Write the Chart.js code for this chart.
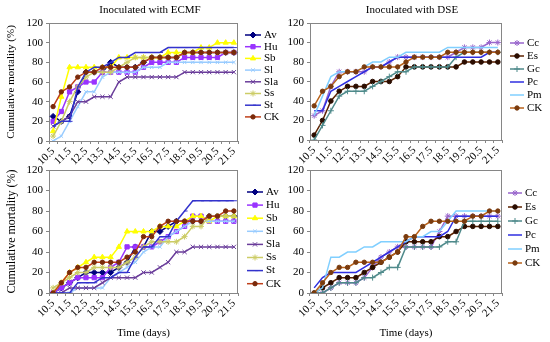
<!DOCTYPE html>
<html lang="en">
<head>
<meta charset="UTF-8">
<title>Cumulative mortality</title>
<script src="https://cdn.jsdelivr.net/npm/chart.js"></script>
<style>
  body { margin: 0; background: #fff; }
  #wrap { position: relative; width: 550px; height: 342px; overflow: hidden; }
  canvas { position: absolute; }
</style>
</head>
<body>
<div id="wrap">
  <canvas id="ecmfTop" width="285" height="168" style="left:0;top:0"></canvas>
  <canvas id="dseTop" width="268" height="168" style="left:282px;top:0"></canvas>
  <canvas id="ecmfBottom" width="285" height="182" style="left:0;top:160px"></canvas>
  <canvas id="dseBottom" width="268" height="182" style="left:282px;top:160px"></canvas>
</div>
<script>
// time points, every half day
const days = ['10.5','11','11.5','12','12.5','13','13.5','14','14.5','15','15.5','16',
              '16.5','17','17.5','18','18.5','19','19.5','20','20.5','21','21.5'];

// top row, ECMF
const avTop  = [25,20,25,50,70,70,70,80,75,75,75,80,85,85,85,85,90,90,90,90,90,90,90];
const huTop  = [20,30,50,55,60,60,70,70,70,70,70,75,80,80,80,80,85,85,85,85,85,90,90];
const sbTop  = [10,45,75,75,75,75,75,75,85,85,85,85,85,85,90,90,90,90,95,95,100,100,100];
const slTop  = [0,5,20,35,50,50,65,70,70,70,70,75,75,75,80,80,80,80,80,80,80,80,80];
const slaTop = [15,20,25,40,40,45,45,45,60,65,65,65,65,65,65,65,70,70,70,70,70,70,70];
const ssTop  = [5,20,40,55,65,70,70,70,75,80,85,85,85,85,85,85,90,90,90,90,90,90,90];
const stTop  = [15,20,20,55,70,75,75,80,85,85,90,90,90,90,95,95,95,95,95,95,95,95,95];
const ckTop  = [35,50,55,65,70,70,75,75,75,75,75,80,85,85,85,85,90,90,90,90,90,90,90];

// top row, DSE
const ccTop  = [25,30,55,70,70,70,70,75,75,80,85,85,85,85,85,85,85,90,95,95,95,100,100];
const esTop  = [5,20,40,50,55,55,55,60,60,60,65,75,75,75,75,75,75,75,80,80,80,80,80];
const gcTop  = [0,15,30,45,50,50,50,55,60,65,70,70,75,75,75,75,75,85,90,90,90,90,90];
const pcTop  = [30,30,50,55,60,65,70,75,75,80,85,85,85,85,85,85,85,85,85,85,85,90,90];
const pmTop  = [25,45,65,70,70,70,75,80,80,85,85,90,90,90,90,90,95,95,95,95,95,95,95];

// bottom row, ECMF
const avBot  = [0,5,10,15,20,20,20,20,25,30,45,45,60,60,65,70,70,70,70,75,75,75,75];
const huBot  = [0,5,10,15,15,15,15,25,30,45,45,45,45,50,55,60,65,75,75,70,70,70,70];
const sbBot  = [0,10,20,25,30,35,35,35,45,60,60,60,60,65,65,65,70,75,75,70,75,75,75];
const slBot  = [0,0,0,5,5,5,5,15,20,25,30,40,45,45,55,60,65,70,70,70,70,70,70];
const slaBot = [0,0,5,5,5,5,10,15,15,15,15,20,20,25,30,40,40,45,45,45,45,45,45];
const ssBot  = [5,10,15,20,20,25,25,25,25,30,35,45,50,50,50,50,55,65,65,75,75,75,75];
const stBot  = [0,0,0,10,10,10,15,15,20,20,35,45,45,55,55,70,80,90,90,90,90,90,90];
const ckBot  = [0,10,20,25,25,30,30,30,30,35,40,55,55,65,70,70,70,70,70,75,75,80,80];

// bottom row, DSE
const ccBot  = [0,0,5,10,10,10,15,25,35,40,45,45,45,45,45,60,75,75,75,75,75,75,75];
const esBot  = [0,5,10,15,15,15,20,25,30,35,40,50,50,50,50,55,55,60,65,65,65,65,65];
const gcBot  = [0,0,5,10,10,10,15,15,20,25,25,45,45,45,45,45,50,50,70,70,70,70,70];
const pcBot  = [5,15,20,20,20,20,25,30,35,40,45,50,55,55,55,55,60,75,75,75,75,75,75];
const pmBot  = [0,5,35,35,40,40,45,45,50,50,50,50,55,55,60,60,70,80,80,80,80,80,80];

const ecmfStyle = {
  Av:  { line: '#000080', marker: 'rectRot',  fill: '#000080', r: 3 },
  Hu:  { line: '#9933ff', marker: 'rect',     fill: '#9933ff', r: 3 },
  Sb:  { line: '#ffff00', marker: 'triangle', fill: '#ffff00', r: 3 },
  Sl:  { line: '#99ccff', marker: 'crossRot', fill: '#99ccff', r: 2.5 },
  Sla: { line: '#6a3d9a', marker: 'crossRot', fill: '#6a3d9a', r: 3 },
  Ss:  { line: '#cccc66', marker: 'star',     fill: '#cccc66', r: 3 },
  St:  { line: '#3333cc', marker: 'dash',     fill: '#3333cc', r: 3 },
  CK:  { line: '#c0401a', marker: 'circle',   fill: '#7a2a0a', r: 2.2 }
};
const dseStyle = {
  Cc:  { line: '#9966cc', marker: 'star',   fill: '#9966cc', r: 3 },
  Es:  { line: '#5c2200', marker: 'circle', fill: '#2b0d00', r: 2.3 },
  Gc:  { line: '#4f8a8b', marker: 'cross',  fill: '#4f8a8b', r: 3 },
  Pc:  { line: '#2f2fe0', marker: null },
  Pm:  { line: '#80cfff', marker: null },
  CK:  { line: '#b8621b', marker: 'circle', fill: '#7a3b0e', r: 2.2 }
};

Chart.defaults.font.family = '"Liberation Serif", "Times New Roman", serif';
Chart.defaults.font.size = 11;
Chart.defaults.color = '#000';
const axisGray = '#868686';

function buildSets(pairs, styles) {
  return pairs.map(([label, values], i) => {
    const s = styles[label];
    return {
      label: label,
      data: values,
      borderColor: s.line,
      borderWidth: 1.5,
      tension: 0,
      fill: false,
      order: pairs.length - i,
      pointStyle: s.marker || 'circle',
      pointRadius: s.marker ? s.r : 0,
      pointHoverRadius: s.marker ? s.r : 0,
      pointBackgroundColor: s.fill || s.line,
      pointBorderColor: s.fill || s.line,
      pointBorderWidth: 1
    };
  });
}

// panel title, plot frame and an Excel-like legend (line + marker)
const panelPlugin = {
  id: 'panel',
  beforeDatasetsDraw(chart) {
    const a = chart.chartArea, ctx = chart.ctx;
    ctx.save();
    ctx.strokeStyle = axisGray;
    ctx.lineWidth = 1;
    ctx.strokeRect(a.left + 0.5, a.top + 0.5, a.right - a.left - 1, a.bottom - a.top);
    ctx.restore();
  },
  afterDraw(chart, args, o) {
    const ctx = chart.ctx;
    ctx.save();
    ctx.font = '11px "Liberation Serif"';
    ctx.fillStyle = '#000';
    if (o.title) {
      ctx.textAlign = 'center';
      ctx.textBaseline = 'middle';
      ctx.fillText(o.title, o.titleX, o.titleY);
    }
    ctx.textAlign = 'left';
    ctx.textBaseline = 'middle';
    chart.data.datasets.forEach((ds, i) => {
      const x = o.legendX, y = o.legendY + i * o.legendGap;
      ctx.strokeStyle = ds.borderColor;
      ctx.lineWidth = ds.borderWidth;
      ctx.beginPath();
      ctx.moveTo(x, y);
      ctx.lineTo(x + o.legendLen, y);
      ctx.stroke();
      if (ds.pointRadius > 0) {
        ctx.fillStyle = ds.pointBackgroundColor;
        ctx.strokeStyle = ds.pointBorderColor;
        ctx.lineWidth = 1;
        Chart.helpers.drawPoint(ctx, { pointStyle: ds.pointStyle, radius: ds.pointRadius, borderWidth: 1, rotation: 0 },
          x + o.legendLen / 2, y);
      }
      ctx.fillStyle = '#000';
      ctx.fillText(ds.label, x + o.legendLen + 3, y);
    });
    ctx.restore();
  }
};

function makeChart(id, sets, box) {
  return new Chart(document.getElementById(id), {
    type: 'line',
    data: { labels: days, datasets: sets },
    options: {
      responsive: false,
      animation: false,
      layout: { padding: { top: box.top, right: box.right, left: 0, bottom: 0 } },
      plugins: {
        legend: { display: false },
        tooltip: { enabled: false },
        panel: box.panel
      },
      scales: {
        x: {
          type: 'category',
          offset: true,
          grid: { display: true, drawOnChartArea: false, offset: true, tickLength: 3, color: axisGray },
          border: { color: axisGray },
          ticks: {
            autoSkip: false, minRotation: 45, maxRotation: 45, padding: 1,
            callback: (v, i) => i % 2 === 0 ? days[i] : ''
          },
          title: box.xTitle
            ? { display: true, text: 'Time (days)', padding: { top: 0, bottom: 2 } }
            : { display: false },
          afterFit: s => { s.height = box.xHeight; }
        },
        y: {
          min: 0, max: 120,
          ticks: { stepSize: 20, padding: 3 },
          grid: { drawOnChartArea: false, tickLength: 3, color: axisGray },
          border: { color: axisGray },
          title: box.yTitle
            ? { display: true, text: 'Cumulative mortality (%)', font: { size: box.yTitleSize }, padding: { top: 5, bottom: 0 } }
            : { display: false },
          afterFit: s => { s.width = box.yWidth; }
        }
      }
    },
    plugins: [panelPlugin]
  });
}

makeChart('ecmfTop', buildSets([
  ['Av', avTop], ['Hu', huTop], ['Sb', sbTop], ['Sl', slTop],
  ['Sla', slaTop], ['Ss', ssTop], ['St', stTop], ['CK', ckTop]
], ecmfStyle), {
  top: 23, right: 47, xHeight: 27, yWidth: 49, yTitle: true, yTitleSize: 11, xTitle: false,
  panel: { title: 'Inoculated with ECMF', titleX: 150, titleY: 10,
           legendX: 245, legendY: 35, legendGap: 11.7, legendLen: 16 }
});

makeChart('dseTop', buildSets([
  ['Cc', ccTop], ['Es', esTop], ['Gc', gcTop], ['Pc', pcTop], ['Pm', pmTop], ['CK', ckTop]
], dseStyle), {
  top: 23, right: 48, xHeight: 28, yWidth: 28, yTitle: false, xTitle: false,
  panel: { title: 'Inoculated with DSE', titleX: 130, titleY: 10,
           legendX: 228, legendY: 43, legendGap: 13, legendLen: 14 }
});

makeChart('ecmfBottom', buildSets([
  ['Av', avBot], ['Hu', huBot], ['Sb', sbBot], ['Sl', slBot],
  ['Sla', slaBot], ['Ss', ssBot], ['St', stBot], ['CK', ckBot]
], ecmfStyle), {
  top: 10, right: 47, xHeight: 49, yWidth: 49, yTitle: true, yTitleSize: 12, xTitle: true,
  panel: { legendX: 247, legendY: 32, legendGap: 13.1, legendLen: 16 }
});

makeChart('dseBottom', buildSets([
  ['Cc', ccBot], ['Es', esBot], ['Gc', gcBot], ['Pc', pcBot], ['Pm', pmBot], ['CK', ckBot]
], dseStyle), {
  top: 10, right: 48, xHeight: 49, yWidth: 28, yTitle: false, xTitle: true,
  panel: { legendX: 226, legendY: 33, legendGap: 14, legendLen: 14 }
});
</script>
</body>
</html>
